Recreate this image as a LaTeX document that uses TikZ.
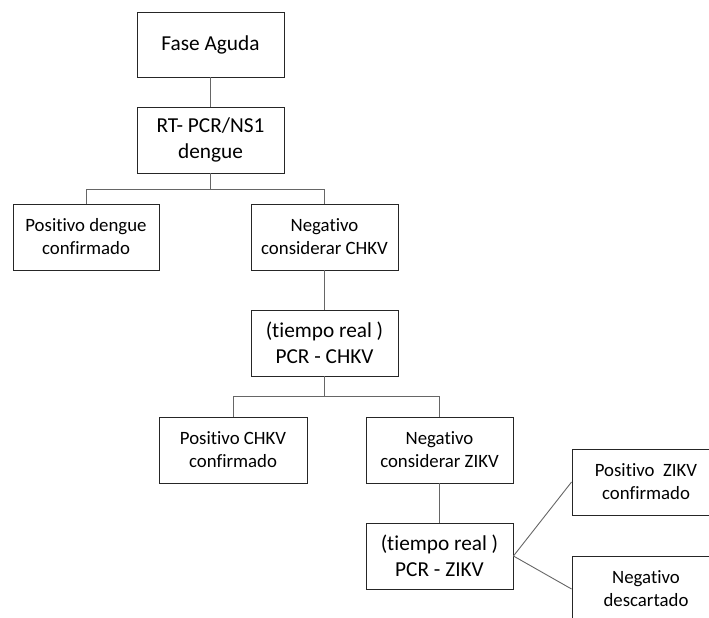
\documentclass[tikz,border=0pt]{standalone}
\usepackage{fontspec}
\setmainfont[RawFeature=-liga]{Carlito}
\begin{document}
\begin{tikzpicture}[x=1pt,y=1pt,
  box/.style={draw=black!85, line width=0.9pt, rectangle, minimum width=147pt, minimum height=66pt, inner sep=0pt, align=center, text=black},
  big/.style={font={\fontsize{21.3}{26}\selectfont}},
  small/.style={font={\fontsize{18.8}{23}\selectfont}},
  conn/.style={draw=black!60, line width=0.9pt}]
\useasboundingbox (0,0) rectangle (709,-618);
\clip (0,0) rectangle (709,-618);
\node[box,big,minimum height=65pt] (fase) at (210.5,-44.5) {Fase Aguda};
\node[box,big] (rt) at (210.5,-140) {RT- PCR/NS1\\dengue};
\node[box,small,minimum width=146pt] (posd) at (86,-237) {Positivo dengue\\confirmado};
\node[box,small] (negc) at (324.5,-237) {Negativo\\considerar CHKV};
\node[box,big] (tchk) at (324.5,-343) {(tiempo real )\\PCR - CHKV};
\node[box,small,minimum width=148pt] (posc) at (233,-450) {Positivo CHKV\\confirmado};
\node[box,small] (negz) at (439.5,-450) {Negativo\\considerar ZIKV};
\node[box,big] (tzik) at (439.5,-556) {(tiempo real )\\PCR - ZIKV};
\node[box,small,minimum width=148pt] (posz) at (646,-482) {Positivo\ \ ZIKV\\confirmado};
\node[box,small,minimum width=148pt] (negd) at (646,-589) {Negativo\\descartado};
\coordinate (t1) at ([yshift=-16pt]rt.south);
\coordinate (t2) at ([yshift=-20pt]tchk.south);
\draw[conn] (fase.south) -- (rt.north);
\draw[conn] (rt.south) -- (t1);
\draw[conn] (t1) -| (posd.north);
\draw[conn] (t1) -| (negc.north);
\draw[conn] (negc.south) -- (tchk.north);
\draw[conn] (tchk.south) -- (t2);
\draw[conn] (t2) -| (posc.north);
\draw[conn] (t2) -| (negz.north);
\draw[conn] (negz.south) -- (tzik.north);
\draw[conn] (tzik.east) -- (posz.west);
\draw[conn] (tzik.east) -- (negd.west);
\end{tikzpicture}
\end{document}
